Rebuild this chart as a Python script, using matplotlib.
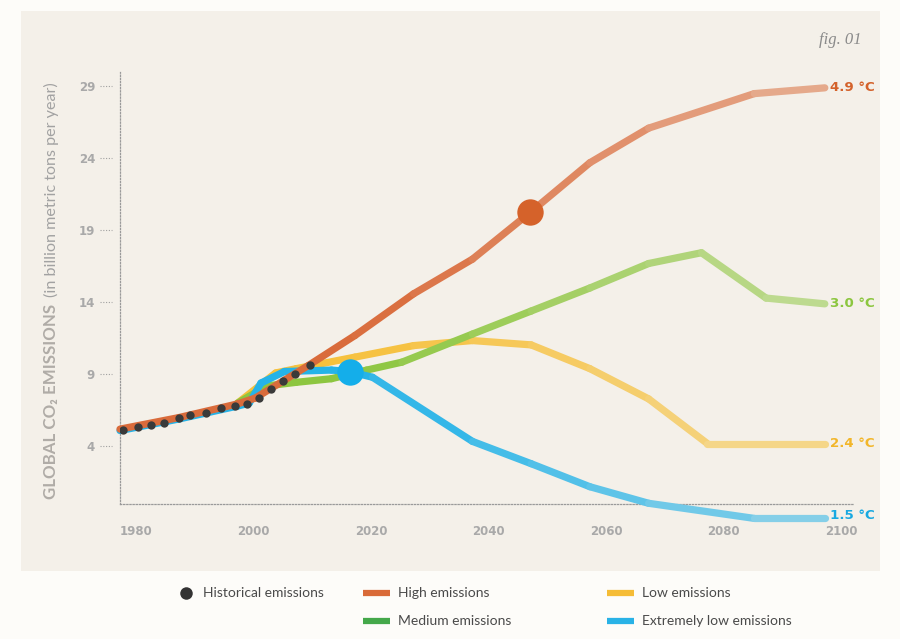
import matplotlib
matplotlib.use("Agg")
import matplotlib.pyplot as plt
import matplotlib.transforms as mtransforms
from matplotlib.collections import LineCollection
from matplotlib.colors import to_rgb
from matplotlib.lines import Line2D
from matplotlib.patches import Rectangle
import numpy as np

# ---- data ----
HIST_YEARS = [1980.5, 1983, 1985.3, 1987.5, 1990, 1992, 1994.7, 1997.2,
              1999.5, 2001.6, 2003.7, 2005.7, 2007.7, 2009.8, 2012.3]
HIST_VALS = [5.16, 5.32, 5.51, 5.65, 5.99, 6.15, 6.31, 6.66,
             6.83, 6.97, 7.38, 7.98, 8.56, 9.02, 9.63]

HIGH_YEARS = [1980, 1990, 2000, 2003, 2008, 2012, 2020, 2030, 2040, 2050, 2060, 2070, 2088, 2100]
HIGH_VALS = [5.2, 6.0, 6.95, 7.35, 8.6, 9.6, 11.7, 14.6, 17.0, 20.3, 23.7, 26.1, 28.5, 28.9]

MED_YEARS = [2000, 2005, 2010, 2016, 2022, 2028, 2040, 2050, 2060, 2070, 2079, 2090, 2100]
MED_VALS = [7.0, 8.2, 8.45, 8.7, 9.3, 9.85, 11.8, 13.4, 15.0, 16.7, 17.45, 14.3, 13.9]

LOW_YEARS = [2000, 2006.5, 2010, 2020, 2030, 2040, 2050, 2060, 2070, 2080, 2100]
LOW_VALS = [7.0, 9.1, 9.4, 10.2, 11.0, 11.35, 11.05, 9.4, 7.3, 4.2, 4.2]

XLOW_YEARS = [1980, 1990, 2000, 2002, 2004, 2008, 2016, 2019, 2023, 2040, 2050, 2060, 2070, 2088, 2100]
XLOW_VALS = [5.1, 5.9, 6.8, 7.0, 8.4, 9.2, 9.3, 9.2, 8.8, 4.35, 2.8, 1.2, 0.05, -1.0, -1.0]

HIGH_MARK = (2049.8, 20.27)
XLOW_MARK = (2019.1, 9.16)

END_LABELS = ["4.9 °C", "3.0 °C", "2.4 °C", "1.5 °C"]
Y_TICKS = [4, 9, 14, 19, 24, 29]
X_TICKS = [1980, 2000, 2020, 2040, 2060, 2080, 2100]

# ---- style ----
BG_OUT = "#fdfcf9"
BG_IN = "#f4f0e9"
GREY = "#a9a9a9"
C_HIGH = "#d96b3b"
C_MED = "#8dc640"
C_LOW = "#f6c13d"
C_XLOW = "#25b3e8"
FONT = ["Lato", "DejaVu Sans"]

W, H = 900, 639


def fx(px):
    return px / W


def fy(py):
    return 1 - py / H


def faded_line(ax, xs, ys, color, zorder, start=2020, end=2100, max_mix=0.5):
    """Draw the line segment by segment, washing out towards the background."""
    c = np.array(to_rgb(color))
    bg = np.array(to_rgb(BG_IN))
    pts = np.column_stack([xs, ys])
    segs = [pts[i:i + 2] for i in range(len(pts) - 1)]
    cols = []
    for s in segs:
        t = np.clip((s[:, 0].mean() - start) / (end - start), 0, 1)
        mix = t * max_mix
        cols.append((1 - mix) * c + mix * bg)
    lc = LineCollection(segs, colors=cols, linewidths=5.2,
                        capstyle="round", joinstyle="round", zorder=zorder)
    lc.set_clip_on(False)
    ax.add_collection(lc)


fig = plt.figure(figsize=(W / 100, H / 100), dpi=100, facecolor=BG_OUT)
fig.patches.append(Rectangle((fx(21), fy(571)), fx(880) - fx(21), fy(11) - fy(571),
                             transform=fig.transFigure, facecolor=BG_IN,
                             edgecolor="none", zorder=-5))

ax = fig.add_axes([fx(120), fy(504), fx(853) - fx(120), fy(72) - fy(504)])
ax.set_zorder(2)
ax.set_facecolor("none")
ax.set_xlim(1980, 2104.8)
ax.set_ylim(0, 30)

for side in ["top", "right"]:
    ax.spines[side].set_visible(False)
for side in ["left", "bottom"]:
    ax.spines[side].set_linestyle((0, (1, 1.5)))
    ax.spines[side].set_linewidth(0.9)
    ax.spines[side].set_color("#9a9a9a")

ax.set_yticks(Y_TICKS)
ax.set_yticklabels([str(v) for v in Y_TICKS])
ax.set_xticks(X_TICKS)
ax.set_xticklabels([str(v) for v in X_TICKS])
ax.tick_params(axis="y", length=0, pad=18, labelcolor=GREY)
ax.tick_params(axis="x", length=0, pad=15, labelcolor=GREY)
for lab in ax.get_xticklabels() + ax.get_yticklabels():
    lab.set_fontfamily("DejaVu Sans")
    lab.set_fontweight("bold")
    lab.set_fontsize(8.5)
for lab in ax.get_xticklabels():
    lab.set_ha("left")

# dotted little tick marks standing off the axis
trans = mtransforms.blended_transform_factory(ax.transAxes, ax.transData)
for v in Y_TICKS:
    ax.plot([-0.027, -0.011], [v, v], transform=trans, clip_on=False,
            color="#a0a0a0", lw=0.8, ls=(0, (1, 1.5)))

# scenario lines
faded_line(ax, LOW_YEARS, LOW_VALS, C_LOW, 2)
faded_line(ax, MED_YEARS, MED_VALS, C_MED, 3)
faded_line(ax, XLOW_YEARS, XLOW_VALS, C_XLOW, 4)
faded_line(ax, HIGH_YEARS, HIGH_VALS, C_HIGH, 5)

ax.plot(HIST_YEARS, HIST_VALS, "o", color="#3a3a3a", ms=6, mec="none", zorder=6)
ax.plot(*HIGH_MARK, "o", color="#d5622a", ms=19, mec="none", zorder=7)
ax.plot(*XLOW_MARK, "o", color="#14aeea", ms=19, mec="none", zorder=7)

# end labels
ends = [(HIGH_VALS[-1], "#d4622b"), (MED_VALS[-1], "#8cc63f"),
        (LOW_VALS[-1], "#f2b62a"), (XLOW_VALS[-1], "#19a9e1")]
for label, (val, col) in zip(END_LABELS, ends):
    t = ax.text(2100.9, val, label, color=col, fontsize=9.6, fontweight="bold",
                family="DejaVu Sans", ha="left", va="center", clip_on=False)
    if val < 0:
        # nudge the bottom label up a touch so it clears the 2100 tick label
        t.set_transform(ax.transData + mtransforms.ScaledTranslation(0, 2 / 72, fig.dpi_scale_trans))

# y axis title: bold part + light part, rotated
fig.text(fx(51), fy(499), "GLOBAL CO₂ EMISSIONS", rotation=90, ha="center",
         va="bottom", fontsize=12.2, fontweight="bold", color="#b0aca7",
         family=FONT)
fig.text(fx(51), fy(297), "(in billion metric tons per year)", rotation=90,
         ha="center", va="bottom", fontsize=11.6, fontweight="normal",
         color="#a2a2a2", family=FONT)

fig.text(fx(862), fy(40), "fig. 01", ha="right", va="center", fontsize=12,
         style="italic", color="#8a8a8a", family="Liberation Serif")

# legend strip
fig.add_artist(Line2D([fx(186)], [fy(593)], marker="o", ms=9, color="#333333",
                      mec="none", transform=fig.transFigure))
fig.text(fx(203), fy(593), "Historical emissions", ha="left", va="center",
         fontsize=10, color="#4a4a4a", family=FONT)

legend_items = [
    (363, 593, "#d96a38", "High emissions"),
    (363, 621, "#44a84a", "Medium emissions"),
    (607, 593, "#f5bc36", "Low emissions"),
    (607, 621, "#29b2e6", "Extremely low emissions"),
]
for x0, y0, col, txt in legend_items:
    fig.add_artist(Line2D([fx(x0), fx(x0 + 27)], [fy(y0), fy(y0)], lw=4.5,
                          color=col, solid_capstyle="butt",
                          transform=fig.transFigure))
    fig.text(fx(x0 + 35), fy(y0), txt, ha="left", va="center", fontsize=10,
             color="#4a4a4a", family=FONT)

fig.savefig("out.png", dpi=100, facecolor=BG_OUT)
